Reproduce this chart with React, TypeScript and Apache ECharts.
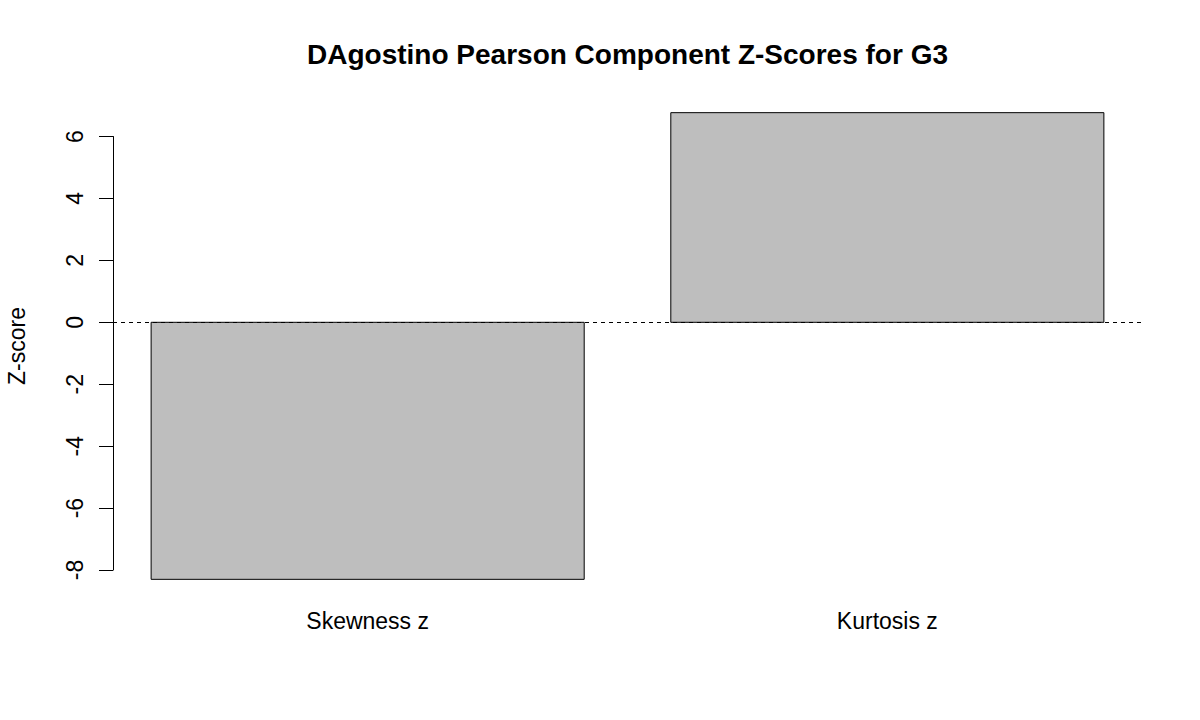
import React, { useEffect, useRef } from 'react';
import * as echarts from 'echarts';

const categories = ['Skewness z', 'Kurtosis z'];
const zScores = [-8.3, 6.77];
const yTicks = [-8, -6, -4, -2, 0, 2, 4, 6];

const FONT = '"Liberation Sans", Arial, sans-serif';

// plot region (R style), in page pixels
const PLOT_LEFT = 113;
const PLOT_RIGHT = 1142;
const PLOT_TOP = 94;
const PLOT_BOTTOM = 598;

// barplot geometry: width 1, space 0.2 (R defaults)
const BAR_W = 1;
const BAR_SPACE = 0.2;

const App = () => {
  const chartRef = useRef<HTMLDivElement>(null);

  useEffect(() => {
    if (!chartRef.current) return;
    const chart = echarts.init(chartRef.current, null, { renderer: 'svg' });

    // bar centres and x range, widened by 4% like R
    const centers = categories.map((_, i) => BAR_SPACE * (i + 1) + BAR_W * i + BAR_W / 2);
    const xl = BAR_SPACE;
    const xr = (BAR_SPACE + BAR_W) * categories.length;
    const xMin = xl - (xr - xl) * 0.04;
    const xMax = xr + (xr - xl) * 0.04;

    // y range: range(0, heights) widened by 4%
    const lo = Math.min(0, ...zScores);
    const hi = Math.max(0, ...zScores);
    const pad = (hi - lo) * 0.04;
    const yMin = lo - pad;
    const yMax = hi + pad;
    const plotH = PLOT_BOTTOM - PLOT_TOP;
    const toY = (v: number) => PLOT_TOP + ((yMax - v) / (yMax - yMin)) * plotH;
    const tickLo = Math.min(...yTicks);
    const tickHi = Math.max(...yTicks);

    const option = {
      animation: false,
      backgroundColor: '#ffffff',
      title: {
        text: 'DAgostino Pearson Component Z-Scores for G3',
        // title box has 5px padding, so pull it back to centre on the plot
        left: (PLOT_LEFT + PLOT_RIGHT) / 2 - 5,
        top: 35,
        textAlign: 'center',
        textStyle: { fontFamily: FONT, fontSize: 28, fontWeight: 'bold', color: '#000' },
      },
      grid: [
        {
          left: PLOT_LEFT,
          right: 1200 - PLOT_RIGHT,
          top: PLOT_TOP,
          bottom: 720 - PLOT_BOTTOM,
          outerBoundsMode: 'none',
        },
        {
          // only carries the y axis, which R draws from -8 to 6
          left: PLOT_LEFT,
          right: 1200 - PLOT_RIGHT,
          top: toY(tickHi),
          bottom: 720 - toY(tickLo),
          outerBoundsMode: 'none',
        },
      ],
      xAxis: [
        {
          gridIndex: 0,
          type: 'value',
          min: xMin,
          max: xMax,
          axisLine: { show: false },
          axisTick: { show: false },
          splitLine: { show: false },
          axisLabel: {
            customValues: centers,
            showMinLabel: true,
            showMaxLabel: true,
            formatter: (v: number) => {
              const i = centers.findIndex((c) => Math.abs(c - v) < 1e-6);
              return i >= 0 ? categories[i] : '';
            },
            fontFamily: FONT,
            fontSize: 23,
            color: '#000',
            margin: 11,
          },
        },
        { gridIndex: 1, type: 'value', show: false, min: 0, max: 1 },
      ],
      yAxis: [
        {
          gridIndex: 0,
          type: 'value',
          min: yMin,
          max: yMax,
          axisLine: { show: false },
          axisTick: { show: false },
          axisLabel: { show: false },
          splitLine: { show: false },
          name: 'Z-score',
          nameLocation: 'middle',
          nameGap: 85,
          nameTextStyle: { fontFamily: FONT, fontSize: 23, color: '#000' },
        },
        {
          gridIndex: 1,
          type: 'value',
          min: tickLo,
          max: tickHi,
          interval: 2,
          axisLine: { show: true, lineStyle: { color: '#000', width: 1 } },
          axisTick: { show: true, length: 14, lineStyle: { color: '#000', width: 1 } },
          axisLabel: { fontFamily: FONT, fontSize: 23, color: '#000', rotate: 90, margin: 27 },
          splitLine: { show: false },
        },
      ],
      series: [
        {
          type: 'custom',
          xAxisIndex: 0,
          yAxisIndex: 0,
          data: zScores.map((v, i) => [centers[i], v]),
          renderItem: (_params: any, api: any) => {
            const c = api.value(0);
            const v = api.value(1);
            const p0 = api.coord([c - BAR_W / 2, v]);
            const p1 = api.coord([c + BAR_W / 2, 0]);
            return {
              type: 'rect',
              shape: {
                x: p0[0],
                y: Math.min(p0[1], p1[1]),
                width: p1[0] - p0[0],
                height: Math.abs(p1[1] - p0[1]),
              },
              style: { fill: '#bebebe', stroke: '#000', lineWidth: 1 },
            };
          },
        },
        {
          // abline(h = 0, lty = 2)
          type: 'line',
          xAxisIndex: 0,
          yAxisIndex: 0,
          data: [],
          markLine: {
            silent: true,
            symbol: 'none',
            label: { show: false },
            lineStyle: { color: '#000', type: [4, 4], width: 1 },
            data: [{ yAxis: 0 }],
          },
        },
      ],
    };

    chart.setOption(option);
    return () => chart.dispose();
  }, []);

  return (
    <div
      ref={chartRef}
      style={{ position: 'fixed', left: 0, top: 0, width: '1200px', height: '720px' }}
    />
  );
};

export default App;
